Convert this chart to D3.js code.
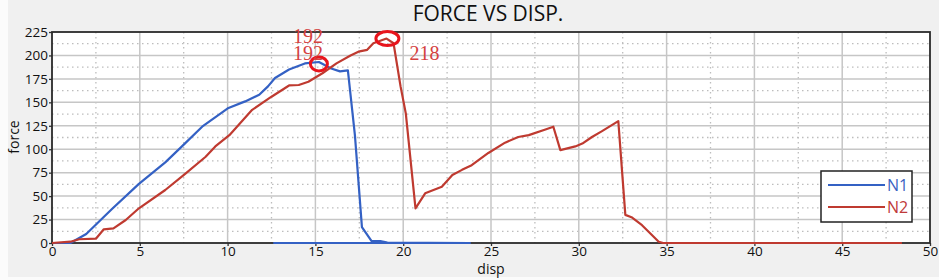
<!DOCTYPE html>
<html lang="en">
<head>
  <meta charset="UTF-8">
  <title>FORCE VS DISP.</title>
  <script src="https://d3js.org/d3.v7.min.js"></script>
  <style>
    body { margin: 0; background: #fbfbfb; font-family: "Open Sans", sans-serif; }
    svg { display: block; }
    .tick text { font-size: 13.5px; fill: #111; }
  </style>
</head>
<body>
  <svg id="chart" width="939" height="280"></svg>

  <script>
    // N1 curve (the tail at 0 runs back towards ~12.6 on unloading)
    const n1Disp  = [0, 1.05, 1.95, 3.4, 4.95, 6.45, 7.4, 8.55, 10.05, 11.0, 11.8, 12.3, 12.7, 13.5, 14.4, 15.2, 15.9, 16.4, 16.85, 17.25, 17.65, 18.2, 18.7, 19.1, 23.8, 12.6];
    const n1Force = [0, 0, 9.6, 36, 63, 86, 103, 124, 144, 151, 158, 167, 176, 185, 191.5, 193, 186, 183, 184, 115, 17, 2, 2, 0.5, 0, 0];

    const n2Disp  = [0, 1.05, 1.55, 2.5, 2.95, 3.5, 4.2, 4.95, 6.45, 7.6, 8.75, 9.3, 10.1, 11.4, 12.5, 13.5, 14.05, 14.6, 15.4, 16.2, 17.0, 17.45, 17.95, 18.3, 19.05, 19.45, 19.85, 20.15, 20.7, 21.25, 22.2, 22.8, 23.35, 23.9, 24.85, 25.8, 26.55, 27.15, 28.1, 28.55, 28.95, 29.8, 30.2, 30.75, 31.3, 32.25, 32.65, 33.0, 33.6, 34.55, 34.8, 48.4];
    const n2Force = [0, 1.4, 4, 4.6, 14.6, 15.6, 24.5, 37, 56.5, 74, 92, 103, 115, 142, 156, 168, 168.5, 172, 181, 191.5, 200, 204, 206, 213, 218, 213, 167, 138, 37, 53, 60, 72.5, 78, 83, 96, 107, 113, 115, 121, 124, 99, 103, 106, 113, 119, 130, 30, 27.5, 19, 1.4, 0, 0];

    const seriesNames = ["N1", "N2"];
    const xTicks = [0, 5, 10, 15, 20, 25, 30, 35, 40, 45, 50];
    const yTicks = [0, 25, 50, 75, 100, 125, 150, 175, 200, 225];

    // marked peaks
    const markDisp  = [15.2, 19.1];
    const markForce = [192, 218];
    const markLabels = ["192", "218"];

    const lineColor = ["#3461c4", "#bf3a30"];
    const textColor = ["#3b63c2", "#bf3a3a"];

    const svg = d3.select("#chart");
    const W = 939, H = 280;
    const pl = 52, pr = 930, pt = 32, pb = 243;

    svg.append("rect").attr("x", 8).attr("y", 0).attr("width", W - 8).attr("height", 277)
      .attr("fill", "#f0f0f0");

    const x = d3.scaleLinear().domain([0, 50]).range([pl, pr]);
    const y = d3.scaleLinear().domain([0, 225]).range([pb, pt]);

    svg.append("rect").attr("x", pl).attr("y", pt)
      .attr("width", pr - pl).attr("height", pb - pt).attr("fill", "#fff");

    // minor dotted grid
    const minorX = d3.range(2.5, 50, 5);
    const minorY = d3.range(12.5, 225, 25);
    const grid = svg.append("g");
    grid.selectAll(".mx").data(minorX).enter().append("line")
      .attr("x1", d => x(d)).attr("x2", d => x(d)).attr("y1", pt).attr("y2", pb)
      .attr("stroke", "#bdbdbd").attr("stroke-width", 1.3).attr("stroke-dasharray", "1.5,3.5");
    grid.selectAll(".my").data(minorY).enter().append("line")
      .attr("x1", pl).attr("x2", pr).attr("y1", d => y(d)).attr("y2", d => y(d))
      .attr("stroke", "#bdbdbd").attr("stroke-width", 1.3).attr("stroke-dasharray", "1.5,3.5");
    // major grid
    grid.selectAll(".gx").data(xTicks.slice(1, -1)).enter().append("line")
      .attr("x1", d => x(d)).attr("x2", d => x(d)).attr("y1", pt).attr("y2", pb)
      .attr("stroke", "#c6c6c6").attr("stroke-width", 1.5);
    grid.selectAll(".gy").data(yTicks.slice(1, -1)).enter().append("line")
      .attr("x1", pl).attr("x2", pr).attr("y1", d => y(d)).attr("y2", d => y(d))
      .attr("stroke", "#c6c6c6").attr("stroke-width", 1.5);

    // axes
    const xAxis = svg.append("g").attr("transform", `translate(0,${pb})`)
      .call(d3.axisBottom(x).tickValues(xTicks).tickSize(3).tickPadding(0).tickFormat(d3.format("d")));
    const yAxis = svg.append("g").attr("transform", `translate(${pl},0)`)
      .call(d3.axisLeft(y).tickValues(yTicks).tickSize(3).tickPadding(1).tickFormat(d3.format("d")));
    [xAxis, yAxis].forEach(a => {
      a.select(".domain").remove();
      a.selectAll(".tick line").attr("stroke", "#333").attr("stroke-width", 1.3);
      a.selectAll(".tick text").attr("font-family", "Open Sans, sans-serif");
    });

    // frame
    svg.append("rect").attr("x", pl).attr("y", pt)
      .attr("width", pr - pl).attr("height", pb - pt)
      .attr("fill", "none").attr("stroke", "#2a2a2a").attr("stroke-width", 1.8);

    // lines
    const line = d3.line().x(d => x(d[0])).y(d => y(d[1]));
    const series = [d3.zip(n1Disp, n1Force), d3.zip(n2Disp, n2Force)];
    svg.append("g").selectAll("path").data(series).enter().append("path")
      .attr("d", line).attr("fill", "none")
      .attr("stroke", (d, i) => lineColor[i]).attr("stroke-width", 2.2)
      .attr("stroke-linejoin", "round");

    // peak markers
    const marks = svg.append("g");
    marks.selectAll("ellipse").data(markDisp).enter().append("ellipse")
      .attr("cx", d => x(d)).attr("cy", (d, i) => y(markForce[i]) + (i === 0 ? 1 : 0))
      .attr("rx", (d, i) => i === 0 ? 8.5 : 11.5).attr("ry", 7)
      .attr("fill", "none").attr("stroke", "#e8141c").attr("stroke-width", 3);

    const labelFont = "Liberation Serif, DejaVu Serif, serif";
    const addLabel = (text, px, py) => svg.append("text")
      .attr("x", px).attr("y", py).text(text)
      .attr("font-family", labelFont).attr("font-size", 20)
      .attr("fill", "#d4423f");
    // both curves pass through 192 at the crossing
    addLabel(markLabels[0], x(markDisp[0]) - 26, y(markForce[0]) - 20);
    addLabel(markLabels[0], x(markDisp[0]) - 26, y(markForce[0]) - 3);
    addLabel(markLabels[1], x(markDisp[1]) + 22, y(markForce[1]) + 21);

    // title & axis labels
    svg.append("text").attr("x", 488).attr("y", 21).attr("text-anchor", "middle")
      .attr("font-size", 21).attr("fill", "#111").text("FORCE VS DISP.");
    svg.append("text").attr("x", (pl + pr) / 2).attr("y", 274).attr("text-anchor", "middle")
      .attr("font-size", 14).attr("fill", "#111").text("disp");
    svg.append("text").attr("transform", `translate(19,137) rotate(-90)`).attr("text-anchor", "middle")
      .attr("font-size", 14).attr("fill", "#111").text("force");

    // legend
    const lg = svg.append("g").attr("transform", "translate(821,171)");
    lg.append("rect").attr("width", 91).attr("height", 51)
      .attr("fill", "#fff").attr("stroke", "#222").attr("stroke-width", 1.5);
    const item = lg.selectAll(".item").data(seriesNames).enter().append("g")
      .attr("transform", (d, i) => `translate(0,${14 + i * 22})`);
    item.append("line").attr("x1", 7).attr("x2", 64)
      .attr("stroke", (d, i) => lineColor[i]).attr("stroke-width", 2.2);
    item.append("text").attr("x", 66).attr("y", 6).text(d => d)
      .attr("font-size", 16).attr("fill", (d, i) => textColor[i]);
  </script>
</body>
</html>
